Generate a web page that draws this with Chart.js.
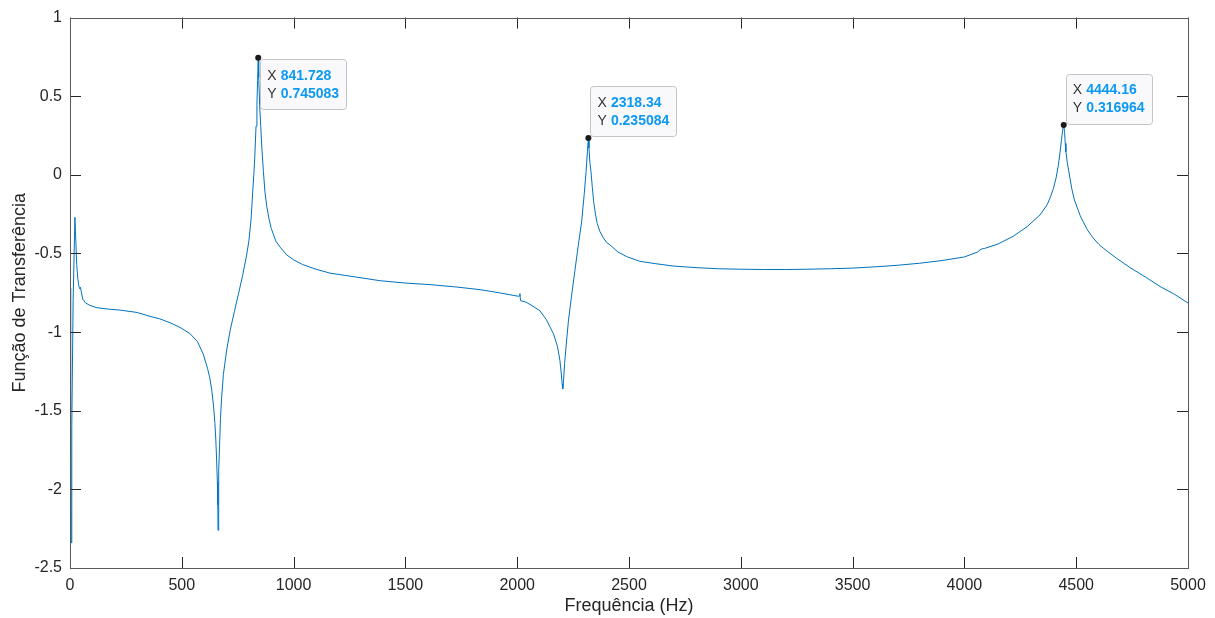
<!DOCTYPE html>
<html>
<head>
<meta charset="utf-8">
<script src="https://cdn.jsdelivr.net/npm/chart.js@4/dist/chart.umd.min.js"></script>
<style>
    html, body { margin: 0; padding: 0; background: #ffffff; }
    #wrap { width: 1215px; height: 618px; }
</style>
</head>
<body>
<div id="wrap"><canvas id="lineChart-ft" width="1215" height="618"></canvas></div>
<script>
// frequency (Hz) and transfer function values
const freq = [
    0, 3, 5, 8, 14, 22, 26, 30, 35, 40, 44, 47, 50, 57, 70, 89, 120, 180, 224, 300,
    358, 400, 447, 492, 537, 570, 596, 615, 625, 634, 642, 648, 652, 656, 659, 661, 662, 664, 666, 669,
    673, 678, 686, 700, 716, 735, 753, 772, 790, 800, 810, 817, 822, 826, 832, 836, 839, 841.728, 844, 848,
    853, 858, 865, 872, 880, 890, 900, 920, 940, 970, 1000, 1040, 1100, 1163, 1280, 1386, 1500, 1610, 1720, 1834,
    1920, 2005, 2010, 2012, 2015, 2040, 2070, 2102, 2130, 2162, 2180, 2191, 2197, 2201, 2204, 2207, 2212, 2218, 2229, 2243,
    2258, 2273, 2288, 2300, 2308, 2314, 2318.34, 2321, 2325, 2330, 2336, 2342, 2350, 2358, 2370, 2385, 2400, 2415, 2450, 2490,
    2549, 2620, 2700, 2800, 2900, 3000, 3100, 3200, 3300, 3400, 3500, 3600, 3700, 3800, 3900, 4000, 4060, 4070, 4080, 4090,
    4150, 4219, 4280, 4338, 4370, 4385, 4398, 4410, 4420, 4428, 4434, 4440, 4444.16, 4448, 4451, 4454, 4460, 4466, 4472, 4480,
    4492, 4505, 4518, 4532, 4550, 4575, 4600, 4621, 4680, 4741, 4810, 4875, 4940, 5000
];
const ftValues = [
    -0.72, -1.5, -2.34, -1.6, -0.8, -0.27, -0.42, -0.57, -0.66, -0.71, -0.725, -0.715, -0.74, -0.79, -0.815, -0.83, -0.845, -0.855, -0.86, -0.875,
    -0.90, -0.915, -0.94, -0.97, -1.01, -1.06, -1.14, -1.23, -1.29, -1.37, -1.47, -1.58, -1.68, -1.82, -1.95, -2.1, -2.26, -2.05, -1.88, -1.72,
    -1.55, -1.42, -1.27, -1.12, -0.99, -0.87, -0.76, -0.64, -0.51, -0.42, -0.28, -0.11, 0.0, 0.10, 0.31, 0.45, 0.6, 0.745083, 0.62, 0.45,
    0.31, 0.17, 0.02, -0.11, -0.2, -0.28, -0.34, -0.42, -0.46, -0.51, -0.54, -0.57, -0.60, -0.625, -0.65, -0.673, -0.688, -0.698, -0.712, -0.73,
    -0.75, -0.772, -0.77, -0.755, -0.80, -0.81, -0.835, -0.865, -0.92, -1.01, -1.09, -1.18, -1.26, -1.33, -1.36, -1.31, -1.2, -1.10, -0.93, -0.77,
    -0.61, -0.45, -0.30, -0.12, 0.02, 0.15, 0.235084, 0.17, 0.08, 0.02, -0.08, -0.17, -0.25, -0.31, -0.36, -0.40, -0.43, -0.445, -0.49, -0.52,
    -0.55, -0.565, -0.58, -0.59, -0.597, -0.600, -0.602, -0.602, -0.600, -0.597, -0.593, -0.585, -0.575, -0.562, -0.545, -0.522, -0.49, -0.477, -0.47, -0.468,
    -0.44, -0.39, -0.33, -0.255, -0.19, -0.14, -0.087, -0.02, 0.06, 0.146, 0.22, 0.29, 0.316964, 0.27, 0.2, 0.146, 0.08, 0.03, -0.02, -0.087,
    -0.16, -0.21, -0.26, -0.30, -0.35, -0.40, -0.44, -0.466, -0.53, -0.59, -0.65, -0.71, -0.76, -0.815
];

// data tips
const tipX = [841.728, 2318.34, 4444.16];
const tipY = [0.745083, 0.235084, 0.316964];
const tipXText = ['841.728', '2318.34', '4444.16'];
const tipYText = ['0.745083', '0.235084', '0.316964'];

const yTickLabels = { '1': '1', '0.5': '0.5', '0': '0', '-0.5': '-0.5', '-1': '-1', '-1.5': '-1.5', '-2': '-2', '-2.5': '-2.5' };

const points = freq.map((f, i) => ({ x: f, y: ftValues[i] }));

const axisColor = '#262626';
const fontFamily = "'Liberation Sans', Arial, Helvetica, sans-serif";

// box + inward ticks like matlab
const axesBox = {
    id: 'axesBox',
    afterDatasetsDraw(chart) {
        const { ctx, chartArea: a, scales } = chart;
        ctx.save();
        ctx.strokeStyle = axisColor;
        ctx.lineWidth = 1;
        ctx.beginPath();
        scales.x.ticks.forEach(t => {
            const px = Math.round(scales.x.getPixelForValue(t.value)) + 0.5;
            ctx.moveTo(px, a.bottom); ctx.lineTo(px, a.bottom - 11);
            ctx.moveTo(px, a.top); ctx.lineTo(px, a.top + 11);
        });
        scales.y.ticks.forEach(t => {
            const py = Math.round(scales.y.getPixelForValue(t.value)) + 0.5;
            ctx.moveTo(a.left, py); ctx.lineTo(a.left + 11, py);
            ctx.moveTo(a.right, py); ctx.lineTo(a.right - 11, py);
        });
        ctx.stroke();
        ctx.strokeStyle = '#5a5a5a';
        ctx.strokeRect(Math.round(a.left) + 0.5, Math.round(a.top) + 0.5, Math.round(a.right - a.left), Math.round(a.bottom - a.top));
        ctx.restore();
    }
};

const dataTips = {
    id: 'dataTips',
    afterDraw(chart) {
        const { ctx, scales } = chart;
        const below = [true, false, false];
        const w = 86, h = 50;
        ctx.save();
        tipX.forEach((tx, i) => {
            const px = scales.x.getPixelForValue(tx);
            const py = scales.y.getPixelForValue(tipY[i]);
            const bx = px + 2;
            const by = below[i] ? py + 1.5 : py - 1.5 - h;
            ctx.fillStyle = '#f9f9fb';
            ctx.strokeStyle = '#c4c4c4';
            ctx.lineWidth = 1;
            ctx.beginPath();
            ctx.roundRect(Math.round(bx) + 0.5, Math.round(by) + 0.5, w, h, 3);
            ctx.fill();
            ctx.stroke();

            ctx.textBaseline = 'middle';
            ctx.textAlign = 'left';
            ctx.font = '14px ' + fontFamily;
            ctx.fillStyle = '#333333';
            ctx.fillText('X', bx + 7, by + 16.5);
            ctx.fillText('Y', bx + 7, by + 35);
            ctx.font = 'bold 14px ' + fontFamily;
            ctx.fillStyle = '#0d99f2';
            ctx.fillText(tipXText[i], bx + 20.5, by + 16.5);
            ctx.fillText(tipYText[i], bx + 20.5, by + 35);

            ctx.fillStyle = '#1a1a1a';
            ctx.beginPath();
            ctx.arc(px, py, 3, 0, Math.PI * 2);
            ctx.fill();
        });
        ctx.restore();
    }
};

const ctx_ft = document.getElementById('lineChart-ft').getContext('2d');

const lineChart_ft = new Chart(ctx_ft, {
    type: 'line',
    data: {
        datasets: [{
            data: points,
            borderColor: '#0072bd',
            borderWidth: 1,
            pointRadius: 0,
            tension: 0,
            fill: false
        }]
    },
    options: {
        responsive: false,
        animation: false,
        layout: { padding: { left: 0, right: 27, top: 15, bottom: 0 } },
        plugins: {
            legend: { display: false },
            tooltip: { enabled: false }
        },
        scales: {
            x: {
                type: 'linear',
                min: 0,
                max: 5000,
                afterFit: scale => { scale.height = 50; },
                grid: { drawOnChartArea: false, drawTicks: false },
                border: { display: false },
                ticks: {
                    stepSize: 500,
                    autoSkip: false,
                    maxRotation: 0,
                    padding: 8,
                    color: axisColor,
                    font: { family: fontFamily, size: 16 },
                    callback: value => String(value)
                },
                title: {
                    display: true,
                    text: 'Frequência (Hz)',
                    color: axisColor,
                    font: { family: fontFamily, size: 18 },
                    padding: { top: 0, bottom: 1 }
                }
            },
            y: {
                min: -2.5,
                max: 1,
                afterFit: scale => { scale.width = 70; },
                grid: { drawOnChartArea: false, drawTicks: false },
                border: { display: false },
                ticks: {
                    stepSize: 0.5,
                    autoSkip: false,
                    padding: 8,
                    color: axisColor,
                    font: { family: fontFamily, size: 16 },
                    callback: value => yTickLabels[String(value)] ?? ''
                },
                title: {
                    display: true,
                    text: 'Função de Transferência',
                    color: axisColor,
                    font: { family: fontFamily, size: 18 },
                    padding: { top: 9, bottom: 0 }
                }
            }
        }
    },
    plugins: [axesBox, dataTips]
});
</script>
</body>
</html>
